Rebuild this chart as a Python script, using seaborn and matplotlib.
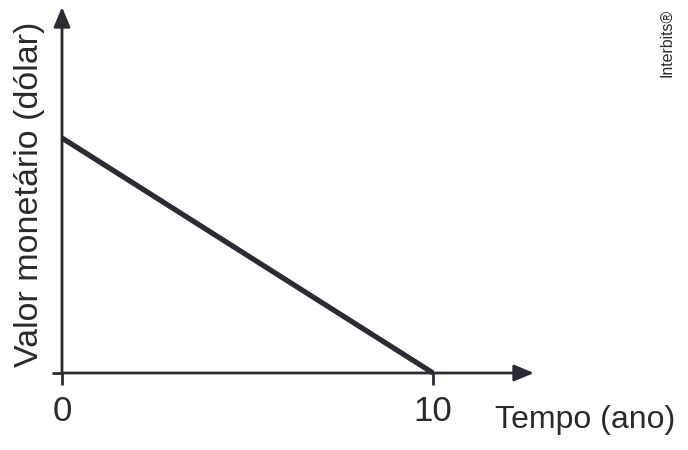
import matplotlib
matplotlib.use("Agg")
import matplotlib.pyplot as plt
import seaborn as sns
import pandas as pd

# Data
tempo = [0, 10]
valor = [100, 0]
xticks = [0, 10]
xtick_labels = ["0", "10"]

sns.set_style("ticks")
plt.rcParams['font.family'] = ['Liberation Sans', 'DejaVu Sans']

ink = "#2c2a33"
txt = "#2a2a2a"

fig = plt.figure(figsize=(6.88, 4.5), dpi=100)
W, H = 688, 450
x0, xtip, ybase, ytip = 62, 534, 373, 7
ax = fig.add_axes([x0 / W, (H - ybase) / H, (xtip - x0) / W, (ybase - ytip) / H])

df = pd.DataFrame({"Tempo": tempo, "Valor": valor})
sns.lineplot(data=df, x="Tempo", y="Valor", ax=ax, color=ink, lw=3.8,
             solid_capstyle="butt", clip_on=False)

px_per_x = (433 - x0) / 10.0
ax.set_xlim(0, (xtip - x0) / px_per_x)
px_per_y = (ybase - 138) / 100.0
ax.set_ylim(0, (ybase - ytip) / px_per_y)

for s in ax.spines.values():
    s.set_visible(False)

arrow = dict(arrowstyle="-|>,head_length=1.2,head_width=0.5", color=ink, lw=2.0,
             shrinkA=0, shrinkB=0)
ax.annotate("", xy=(1, 0), xytext=(0, 0), xycoords="axes fraction",
            textcoords="axes fraction", arrowprops=arrow, annotation_clip=False)
ax.annotate("", xy=(0, 1), xytext=(0, 0), xycoords="axes fraction",
            textcoords="axes fraction", arrowprops=arrow, annotation_clip=False)

ax.set_xticks(xticks)
ax.set_xticklabels(xtick_labels)
ax.set_yticks([0])
ax.set_yticklabels([""])
ax.tick_params(axis="x", direction="out", length=8.5, width=2.0, color=ink,
               labelsize=25, labelcolor=txt, pad=7.5)
ax.tick_params(axis="y", direction="out", length=7, width=2.0, color=ink)

ax.set_xlabel("Tempo (ano)", fontsize=23, color=txt)
ax.xaxis.label.set_ha("center")
ax.xaxis.label.set_va("center")
ax.xaxis.set_label_coords((585 - x0) / (xtip - x0), (ybase - 420) / (ybase - ytip))

ax.set_ylabel("Valor monetário (dólar)", fontsize=24.5, color=txt)
ax.yaxis.label.set_va("center")
ax.yaxis.set_label_coords((30 - x0) / (xtip - x0), (ybase - 194) / (ybase - ytip))

fig.text(667 / W, 1 - 9 / H, "Interbits®", rotation=90, ha="center", va="top",
         fontsize=11.4, color=txt)

ax.set_facecolor("none")
fig.savefig("out.png", dpi=100, facecolor="white")
